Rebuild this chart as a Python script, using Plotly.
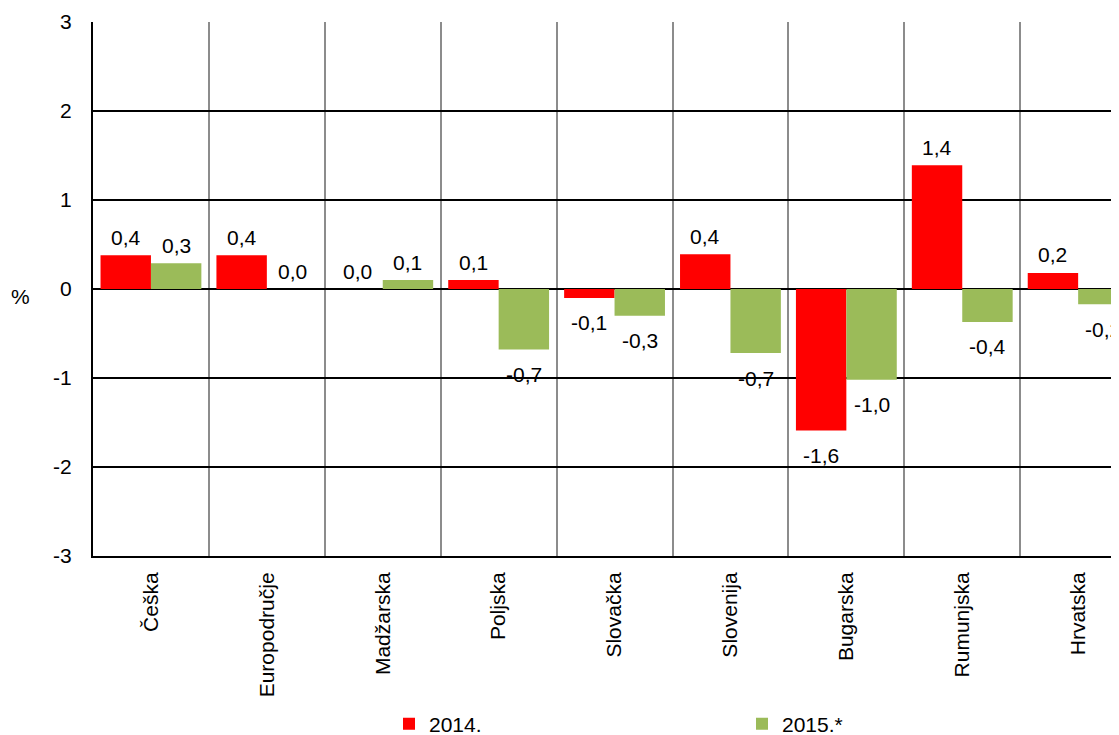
import plotly.graph_objects as go

categories = ["Češka", "Europodručje", "Madžarska", "Poljska", "Slovačka",
              "Slovenija", "Bugarska", "Rumunjska", "Hrvatska"]
values_2014 = [0.38, 0.38, 0.0, 0.10, -0.10, 0.39, -1.59, 1.39, 0.18]
values_2015 = [0.29, 0.0, 0.10, -0.68, -0.30, -0.72, -1.02, -0.37, -0.17]
series_names = ["2014.", "2015.*"]
y_ticks = [-3, -2, -1, 0, 1, 2, 3]

RED = "#FF0000"
GREEN = "#9BBB59"
FONT = "Liberation Sans, Arial, sans-serif"
FS = 21

# page has an 8px body margin; figure coordinates are offset by it
W, H = 1111, 727
L, T, B, R = 85, 14, 179, 0
plot_w = W - L - R
plot_h = H - T - B
cat_px = 115.9

fig = go.Figure()
fig.add_trace(go.Bar(x=categories, y=values_2014, name=series_names[0],
                     marker=dict(color=RED, line=dict(width=0))))
fig.add_trace(go.Bar(x=categories, y=values_2015, name=series_names[1],
                     marker=dict(color=GREEN, line=dict(width=0))))

def fmt(v):
    return f"{v:.1f}".replace(".", ",").replace("-0,0", "0,0")

bargap = 0.13
bw = (1 - bargap) / 2
annotations = []
for si, vals in enumerate([values_2014, values_2015]):
    off = -bw / 2 if si == 0 else bw / 2
    for i, v in enumerate(vals):
        annotations.append(dict(
            x=i + off, y=v, xref="x", yref="y", text=fmt(v), showarrow=False,
            yanchor="middle", xanchor="center",
            yshift=18 if v >= 0 else -25,
            font=dict(family=FONT, size=FS, color="black")))

annotations.append(dict(x=(12 - L) / plot_w, y=0, xref="paper", yref="y", text="%",
                        showarrow=False, xanchor="center", yanchor="middle",
                        yshift=-7, font=dict(family=FONT, size=FS, color="black")))

fig.update_layout(
    width=W, height=H,
    margin=dict(l=L, r=R, t=T, b=B, pad=0, autoexpand=False),
    paper_bgcolor="white", plot_bgcolor="white",
    barmode="group", bargap=bargap, bargroupgap=0,
    font=dict(family=FONT, size=FS, color="black"),
    annotations=annotations,
    showlegend=True,
    legend=dict(orientation="h", x=(381 - L) / plot_w, xanchor="left",
                y=-(716 - (H - B)) / plot_h, yanchor="middle",
                entrywidth=308, itemwidth=30,
                font=dict(family=FONT, size=FS, color="black"),
                bgcolor="rgba(0,0,0,0)"),
)
fig.update_xaxes(
    type="category", range=[-0.5, -0.5 + plot_w / cat_px],
    tickson="boundaries", showgrid=True, gridcolor="#8c8c8c", gridwidth=2,
    tickangle=-90, ticks="", ticklabelstandoff=6,
    showline=True, linecolor="black", linewidth=2, mirror=False,
    tickfont=dict(family=FONT, size=FS, color="black"),
)
fig.update_yaxes(
    range=[-3, 3], tickvals=y_ticks, ticktext=[str(t) for t in y_ticks],
    showgrid=True, gridcolor="black", gridwidth=2,
    zeroline=True, zerolinecolor="black", zerolinewidth=2,
    showline=True, linecolor="black", linewidth=2, mirror=False,
    ticks="", ticklabelstandoff=15,
    tickfont=dict(family=FONT, size=FS, color="black"),
)

fig.write_html("out.html")
